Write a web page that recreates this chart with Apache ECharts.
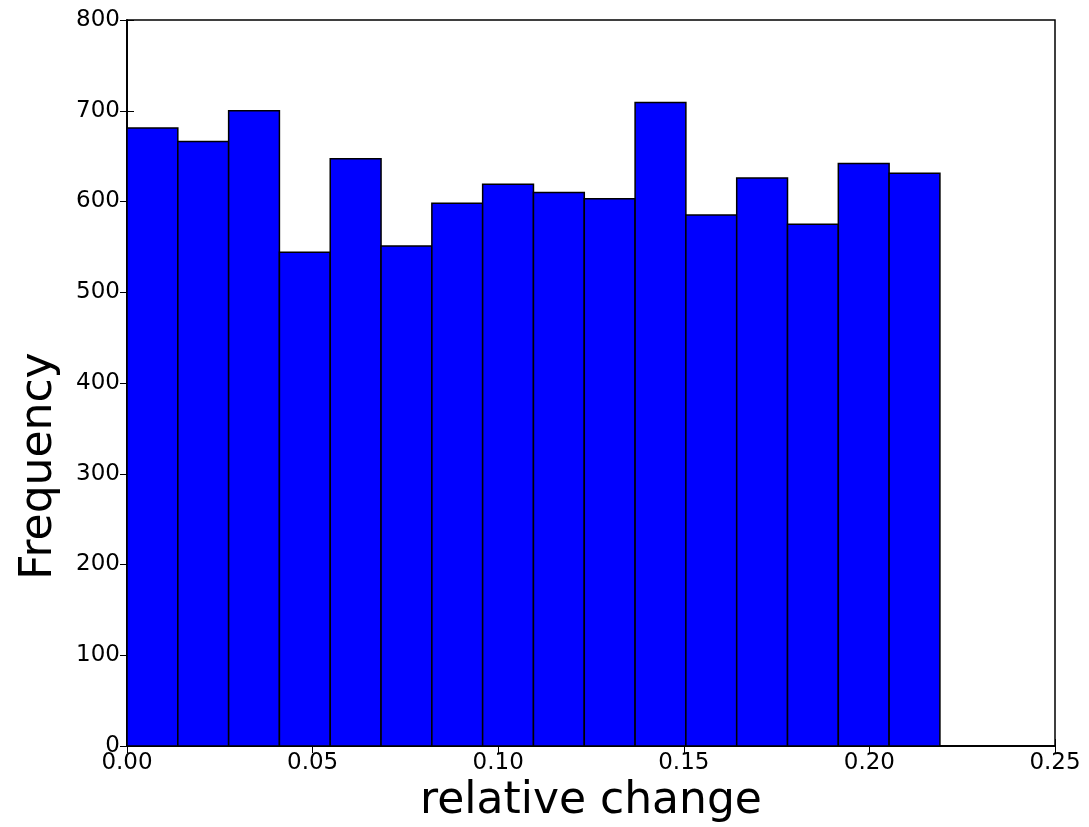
<!DOCTYPE html>
<html>
<head>
<meta charset="utf-8">
<script src="https://cdn.jsdelivr.net/npm/echarts@6/dist/echarts.min.js"></script>
<style>html,body{margin:0;padding:0;background:#fff}#c{width:1089px;height:827px}</style>
</head>
<body>
<div id="c"></div>
<script>
// Histogram data
const binEdges = [0.0000, 0.01369, 0.02738, 0.04106, 0.05475, 0.06844, 0.08213, 0.09581, 0.10950,
                  0.12319, 0.13688, 0.15056, 0.16425, 0.17794, 0.19163, 0.20531, 0.21900];
const frequencies = [681, 666, 700, 544, 647, 551, 598, 619, 610, 603, 709, 585, 626, 575, 642, 631];
const xTicks = [0.00, 0.05, 0.10, 0.15, 0.20, 0.25];
const yTicks = [0, 100, 200, 300, 400, 500, 600, 700, 800];
const xLabel = 'relative change';
const yLabel = 'Frequency';

const data = frequencies.map((v, i) => [binEdges[i], binEdges[i + 1], v]);

const chart = echarts.init(document.getElementById('c'), null, {renderer: 'canvas'});
const font = 'DejaVu Sans';
const tickCommon = {show: true, inside: true, length: 7, lineStyle: {color: '#000', width: 1}};
chart.setOption({
  animation: false,
  backgroundColor: '#fff',
  grid: {left: 127, right: 34, top: 20, bottom: 81, containLabel: false, outerBoundsMode: 'none',
         show: true, borderColor: '#000', borderWidth: 1.5, backgroundColor: 'transparent'},
  graphic: [{
    type: 'text', left: 18, top: 350, rotation: Math.PI / 2, silent: true,
    x: 40, y: 466, left: null, top: null,
    style: {text: yLabel, fontFamily: font, fontSize: 44, fill: '#000',
            align: 'center', verticalAlign: 'middle'}
  }],
  xAxis: [{
    type: 'value', min: xTicks[0], max: xTicks[xTicks.length - 1], interval: 0.05,
    name: xLabel, nameLocation: 'middle', nameGap: 28,
    nameTextStyle: {fontFamily: font, fontSize: 44, color: '#000'},
    axisLine: {show: true, lineStyle: {color: '#000', width: 1.5}},
    axisTick: tickCommon,
    axisLabel: {fontFamily: font, fontSize: 23, color: '#000', margin: 6,
                formatter: v => v.toFixed(2)},
    splitLine: {show: false}
  }, {
    type: 'value', min: xTicks[0], max: xTicks[xTicks.length - 1], interval: 0.05, position: 'top',
    axisLine: {show: true, lineStyle: {color: '#000', width: 1.5}},
    axisTick: tickCommon, axisLabel: {show: false}, splitLine: {show: false}
  }],
  yAxis: [{
    type: 'value', min: yTicks[0], max: yTicks[yTicks.length - 1], interval: 100,
    axisLine: {show: true, lineStyle: {color: '#000', width: 1.5}},
    axisTick: tickCommon,
    axisLabel: {fontFamily: font, fontSize: 23, color: '#000', margin: 7},
    splitLine: {show: false}
  }, {
    type: 'value', min: yTicks[0], max: yTicks[yTicks.length - 1], interval: 100, position: 'right',
    axisLine: {show: true, lineStyle: {color: '#000', width: 1.5}},
    axisTick: tickCommon, axisLabel: {show: false}, splitLine: {show: false}
  }],
  series: [{
    type: 'custom',
    xAxisIndex: 0, yAxisIndex: 0,
    encode: {x: [0, 1], y: 2},
    data: data,
    renderItem: function (params, api) {
      const p0 = api.coord([api.value(0), 0]);
      const p1 = api.coord([api.value(1), api.value(2)]);
      return {
        type: 'rect',
        shape: {x: p0[0], y: p1[1], width: p1[0] - p0[0], height: p0[1] - p1[1]},
        style: {fill: '#0000ff', stroke: '#000', lineWidth: 1.5}
      };
    }
  }]
});
</script>
</body>
</html>
